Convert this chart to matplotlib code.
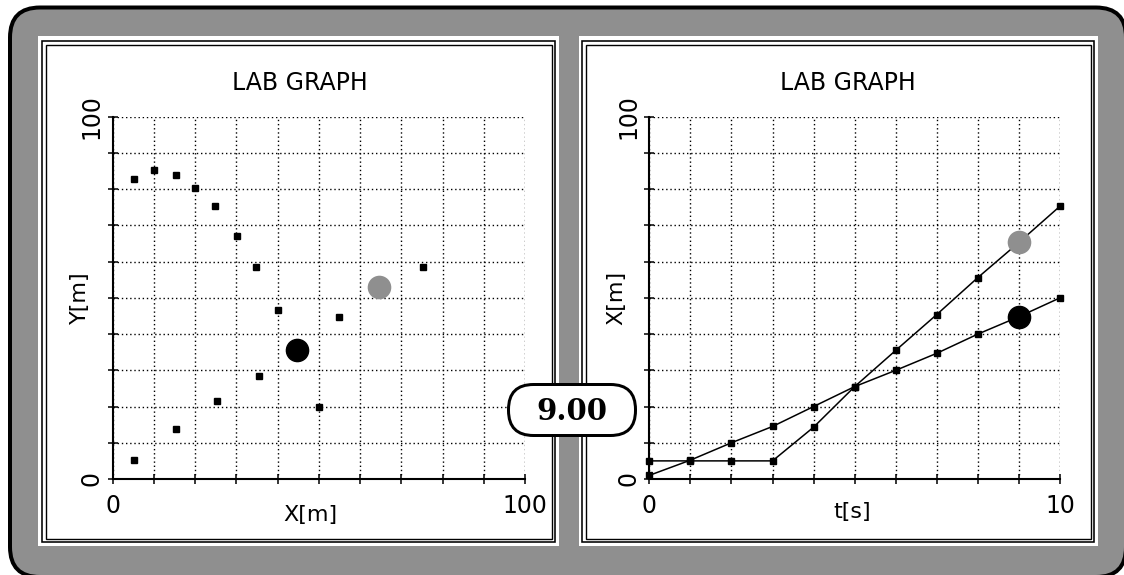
import matplotlib.pyplot as plt
import numpy as np
from matplotlib.patches import FancyBboxPatch, Rectangle

# right panel: position X[m] against time t[s]
t = list(range(11))
x_gray = [5, 5, 5, 5, 14.3, 25.5, 35.5, 45.4, 55.6, 65.3, 75.3]
x_black = [1, 5.2, 10, 14.5, 20, 25.5, 30, 34.7, 40, 44.8, 50]
t_now = 9

# left panel: path Y[m] against X[m]
path_black_x = [5.1, 10, 15.4, 20, 24.75, 30.2, 34.8, 40, 50]
path_black_y = [82.9, 85.4, 83.8, 80.2, 75.3, 67.0, 58.5, 46.7, 20.0]
path_gray_x = [5.1, 15.4, 25.4, 35.4, 55.0, 75.3]
path_gray_y = [5.2, 13.9, 21.4, 28.4, 44.6, 58.6]
now_black = (44.8, 35.5)
now_gray = (64.7, 52.9)

clock_text = "9.00"

W, H = 1124, 575
PT = 0.72  # points per pixel at dpi 100
GRAY = "#8f8f8f"

fig = plt.figure(figsize=(W / 100, H / 100), dpi=100)

# frame drawn in pixel coordinates
bg = fig.add_axes([0, 0, 1, 1], zorder=0)
bg.set_xlim(0, W)
bg.set_ylim(H, 0)
bg.axis("off")
bg.add_patch(FancyBboxPatch((10, 7.5), 1116, 569.5,
                            boxstyle="round,pad=0,rounding_size=30",
                            fc=GRAY, ec="black", lw=4 * PT, clip_on=False))
for x0, x1 in [(38, 559), (579, 1098)]:
    bg.add_patch(Rectangle((x0, 36), x1 - x0, 510, fc="white", ec="none"))
for x0, x1 in [(42, 555), (582, 1094)]:
    bg.add_patch(Rectangle((x0, 41), x1 - x0, 501, fill=False, ec="black", lw=1.6 * PT))
    bg.add_patch(Rectangle((x0 + 3.5, 44.5), x1 - x0 - 7, 494, fill=False, ec="black", lw=1.4 * PT))


def fax(x0, x1, y0=116.7, y1=479):
    return fig.add_axes([x0 / W, (H - y1) / H, (x1 - x0) / W, (y1 - y0) / H], zorder=1)


def style(ax, xmax, xstep, xlab, ylab, xlab_pos, title_x):
    ax.set_facecolor("none")
    ax.set_xlim(0, xmax)
    ax.set_ylim(0, 100)
    xt = np.arange(0, xmax + xstep / 2, xstep)
    ax.set_xticks(xt, labels=["0"] + [""] * (len(xt) - 2) + [f"{xmax:g}"])
    yt = np.arange(0, 101, 10)
    ax.set_yticks(yt, labels=["0"] + [""] * 9 + ["100"])
    for s in ["top", "right"]:
        ax.spines[s].set_visible(False)
    for s in ["left", "bottom"]:
        ax.spines[s].set_linewidth(1.5)
    ax.tick_params(direction="inout", length=7, width=1.1, labelsize=17, colors="black")
    ax.tick_params(axis="x", pad=7)
    ax.tick_params(axis="y", pad=3, labelrotation=90)
    for lb in ax.get_yticklabels():
        lb.set_va("center")
    ax.grid(True, color="black", linestyle=(0, (1, 2)), linewidth=1.0)
    ax.set_axisbelow(True)
    ax.set_xlabel(xlab, fontsize=16, va="center")
    ax.xaxis.set_label_coords(xlab_pos[0], xlab_pos[1])
    ax.set_ylabel(ylab, fontsize=16, va="center")
    ax.yaxis.set_label_coords(-0.08, 0.5)
    ax.set_title("LAB GRAPH", fontsize=17, pad=19, x=title_x)


axL = fax(112.7, 525)
style(axL, 100, 10, "X[m]", "Y[m]", (0.48, -0.1), 0.454)
axL.plot(path_black_x, path_black_y, "s", color="black", ms=5, clip_on=False)
axL.plot(path_gray_x, path_gray_y, "s", color="black", ms=5, clip_on=False)
axL.plot(*now_gray, "o", color=GRAY, ms=17, mec="none", clip_on=False)
axL.plot(*now_black, "o", color="black", ms=16, clip_on=False)

axR = fax(649.3, 1060)
style(axR, 10, 1, "t[s]", "X[m]", (0.494, -0.092), 0.484)
axR.plot(t, x_gray, "-s", color="black", lw=1.1, ms=5, clip_on=False)
axR.plot(t, x_black, "-s", color="black", lw=1.1, ms=5, clip_on=False)
axR.plot(t[t_now], x_gray[t_now], "o", color=GRAY, ms=17, mec="none", clip_on=False)
axR.plot(t[t_now], x_black[t_now], "o", color="black", ms=16, clip_on=False)

# clock badge on top of everything
top = fig.add_axes([0, 0, 1, 1], zorder=3)
top.set_xlim(0, W)
top.set_ylim(H, 0)
top.axis("off")
top.add_patch(FancyBboxPatch((508.5, 384.5), 127, 51,
                             boxstyle="round,pad=0,rounding_size=25",
                             fc="white", ec="black", lw=3 * PT))
top.text(572, 411.5, clock_text, ha="center", va="center",
         fontsize=21, fontweight="bold", family="DejaVu Serif")

fig.savefig("out.png", dpi=100)
